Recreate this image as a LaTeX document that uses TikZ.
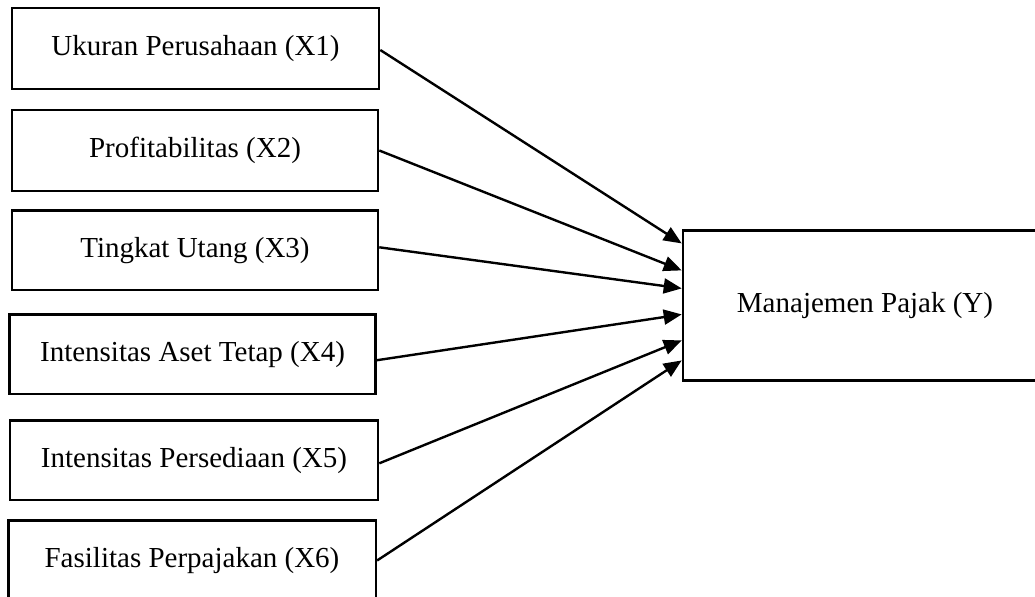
\documentclass[tikz,border=0pt]{standalone}
\usepackage{fontspec}
\setmainfont{Liberation Serif}
\usetikzlibrary{arrows.meta,calc}
\begin{document}
\begin{tikzpicture}[x=0.5pt,y=-0.5pt,
  var/.style={draw=black,line width=1.3pt,rectangle,inner sep=0pt,
    font=\fontsize{14.5}{17}\selectfont},
  arr/.style={line width=1.2pt,-{Triangle[length=9pt,width=7.5pt]}}]
\clip (0,0) rectangle (1035,596);
\node[var,minimum width=183.5pt,minimum height=40.5pt] (x1) at (195.5,48.5) {Ukuran Perusahaan (X1)};
\node[var,minimum width=183pt,minimum height=40.5pt] (x2) at (195,150.5) {Profitabilitas (X2)};
\node[var,minimum width=183pt,minimum height=39.7pt] (x3) at (195,250.3) {Tingkat Utang (X3)};
\node[var,minimum width=183.2pt,minimum height=39.8pt] (x4) at (192.5,354.2) {Intensitas Aset Tetap (X4)};
\node[var,minimum width=184pt,minimum height=39.7pt] (x5) at (194,460.3) {Intensitas Persediaan (X5)};
\node[var,minimum width=183.8pt,minimum height=40pt] (x6) at (192,560.5) {Fasilitas Perpajakan (X6)};
\node[var,minimum width=182pt,minimum height=75pt] (y) at (865,305.7) {Manajemen Pajak (Y)};
\coordinate (e1) at ($(y.north west)+(0,14)$);
\coordinate (e2) at ($(y.north west)+(0,41)$);
\coordinate (e3) at ($(y.north west)+(0,59)$);
\coordinate (e4) at ($(y.north west)+(0,85)$);
\coordinate (e5) at ($(y.north west)+(0,111)$);
\coordinate (e6) at ($(y.north west)+(0,131)$);
\draw[arr] ([yshift=-0.75pt]x1.east) -- (e1);
\draw[arr] (x2.east) -- (e2);
\draw[arr] ([yshift=1.5pt]x3.east) -- (e3);
\draw[arr] ([yshift=-3pt]x4.east) -- (e4);
\draw[arr] ([yshift=-1.5pt]x5.east) -- (e5);
\draw[arr] (x6.east) -- (e6);
\end{tikzpicture}
\end{document}
